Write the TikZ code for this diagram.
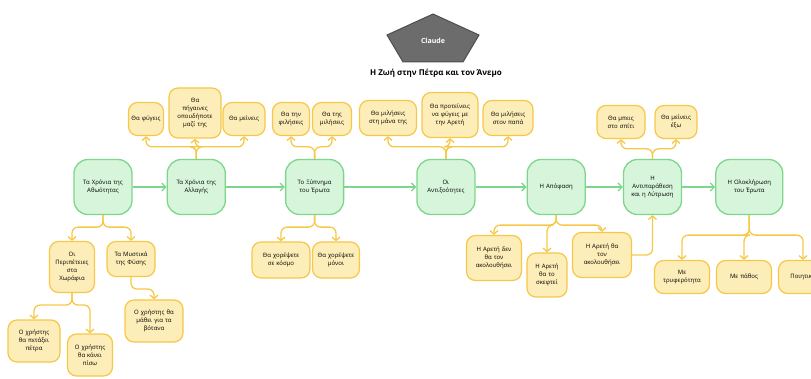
\documentclass[tikz,border=0pt]{standalone}
\usepackage{fontspec}
\setmainfont{Open Sans}
\usetikzlibrary{arrows.meta, positioning, shapes.geometric}
\definecolor{mainfill}{RGB}{214,245,218}
\definecolor{mainline}{RGB}{125,214,140}
\definecolor{subfill}{RGB}{253,237,184}
\definecolor{subline}{RGB}{246,200,72}
\definecolor{logofill}{RGB}{108,108,108}
\definecolor{logoline}{RGB}{78,78,78}
\begin{document}
\begin{tikzpicture}[x=1pt, y=-1pt,
    main/.style={draw=mainline, fill=mainfill, line width=1.3pt, rounded corners=14pt, align=center, text width=54pt, minimum height=55pt, inner sep=2pt, font=\fontsize{6}{8}\selectfont},
    sub/.style={draw=subline, fill=subfill, line width=1.2pt, rounded corners=9pt, align=center, minimum height=33pt, inner sep=2pt, font=\fontsize{6}{8}\selectfont},
    flow/.style={-{Straight Barb[length=4pt,width=8pt]}, draw=mainline, line width=1.3pt},
    branch/.style={-{Straight Barb[length=3.5pt,width=8pt]}, draw=subline, line width=1.3pt, rounded corners=6pt}
]
\useasboundingbox (0,0) rectangle (811,379);
\clip (0,0) rectangle (811,379);

% logo and title
\filldraw[fill=logofill, draw=logoline, line width=1pt] (433,14) -- (479,35) -- (463,62) -- (403,62) -- (387,35) -- cycle;
\node[text=white, font=\fontsize{7}{9}\selectfont\bfseries] (claude) at (433,41) {Claude};
\node[font=\fontsize{8}{10}\selectfont\bfseries] (title) at (436,73) {Η Ζωή στην Πέτρα και τον Άνεμο};

% main row
\node[main] (m1) at (103,187) {Τα Χρόνια της\\Αθωότητας};
\node[main, right=34pt of m1] (m2) {Τα Χρόνια της\\Αλλαγής};
\node[main, right=59pt of m2] (m3) {Το Ξύπνημα\\του Έρωτα};
\node[main, right=72pt of m3] (m4) {Οι\\Αντιξοότητες};
\node[main, right=51pt of m4] (m5) {Η Απόφαση};
\node[main, right=37pt of m5] (m6) {Η\\Αντιπαράθεση\\και η Λύτρωση};
\node[main, right=33pt of m6, text width=63pt] (m7) {Η Ολοκλήρωση\\του Έρωτα};
\draw[flow] (m1) -- (m2);
\draw[flow] (m2) -- (m3);
\draw[flow] (m3) -- (m4);
\draw[flow] (m4) -- (m5);
\draw[flow] (m5) -- (m6);
\draw[flow] (m6) -- (m7);

% choices above
\node[sub, text width=31pt] (a1) at (146,119) {Θα φύγεις};
\node[sub, text width=48pt, minimum height=50pt] (a2) at (195,113) {Θα\\πήγαινες\\οπουδήποτε\\μαζί της};
\node[sub, text width=38pt] (a3) at (244,119) {Θα μείνεις};
\node[sub, text width=33pt] (b1) at (291,119) {Θα την\\φιλήσεις};
\node[sub, text width=35pt] (b2) at (332,119) {Θα της\\μιλήσεις};
\node[sub, text width=53pt, minimum height=35pt] (c1) at (388,118) {Θα μιλήσεις\\στη μάνα της};
\node[sub, text width=52pt, minimum height=45pt] (c2) at (450,115) {Θα προτείνεις\\να φύγεις με\\την Αρετή};
\node[sub, text width=46pt, minimum height=35pt] (c3) at (508,118) {Θα μιλήσεις\\στον παπά};
\node[sub, text width=44pt] (d1) at (621,122) {Θα μπεις\\στο σπίτι};
\node[sub, text width=38pt] (d2) at (676,122) {Θα μείνεις\\έξω};
\foreach \c in {a1,a2,a3} \draw[branch] (m2.north) -- ++(0,-12) -| (\c.south);
\foreach \c in {b1,b2} \draw[branch] (m3.north) -- ++(0,-12) -| (\c.south);
\foreach \c in {c1,c2,c3} \draw[branch] (m4.north) -- ++(0,-12) -| (\c.south);
\foreach \c in {d1,d2} \draw[branch] (m6.north) -- ++(0,-10) -| (\c.south);

% choices below
\node[sub, text width=41pt, minimum height=51pt] (e1) at (72,267) {Οι\\Περιπέτειες\\στα\\Χωράφια};
\node[sub, text width=44pt, minimum height=35pt] (e2) at (131,259) {Τα Μυστικά\\της Φύσης};
\node[sub, text width=48pt, minimum height=42pt] (e3) at (34,341) {Ο χρήστης\\θα πετάξει\\πέτρα};
\node[sub, text width=41pt, minimum height=42pt] (e4) at (90,355) {Ο χρήστης\\θα κάνει\\πίσω};
\node[sub, text width=54pt, minimum height=42pt] (e5) at (154,321) {Ο χρήστης θα\\μάθει για τα\\βότανα};
\node[sub, text width=54pt, minimum height=36pt] (f1) at (281,260) {Θα χορέψετε\\σε κόσμο};
\node[sub, text width=43pt, minimum height=36pt] (f2) at (336,260) {Θα χορέψετε\\μόνοι};
\node[sub, text width=51pt, minimum height=45pt] (g1) at (494,258) {Η Αρετή δεν\\θα τον\\ακολουθήσει};
\node[sub, text width=36pt, minimum height=44pt] (g2) at (547,275) {Η Αρετή\\θα το\\σκεφτεί};
\node[sub, text width=55pt, minimum height=45pt] (g3) at (602,255) {Η Αρετή θα\\τον\\ακολουθήσει};
\node[sub, text width=51pt] (h1) at (682,277) {Με\\τρυφερότητα};
\node[sub, text width=51pt] (h2) at (744,277) {Με πάθος};
\node[sub, text width=45pt] (h3) at (803,277) {Ποιητικά};
\foreach \c in {e1,e2} \draw[branch] (m1.south) -- ++(0,12) -| (\c.north);
\foreach \c in {e3,e4} \draw[branch] (e1.south) -- ++(0,12) -| (\c.north);
\draw[branch] (e2.south) -- ++(0,12) -| (e5.north);
\foreach \c in {f1,f2} \draw[branch] (m3.south) -- ++(0,12) -| (\c.north);
\foreach \c in {g1,g2,g3} \draw[branch] (m5.south) -- ++(0,10) -| (\c.north);
\draw[branch] (g3.east) -| (m6.south);
\foreach \c in {h1,h2,h3} \draw[branch] (m7.south) -- ++(0,20) -| (\c.north);
\end{tikzpicture}
\end{document}
